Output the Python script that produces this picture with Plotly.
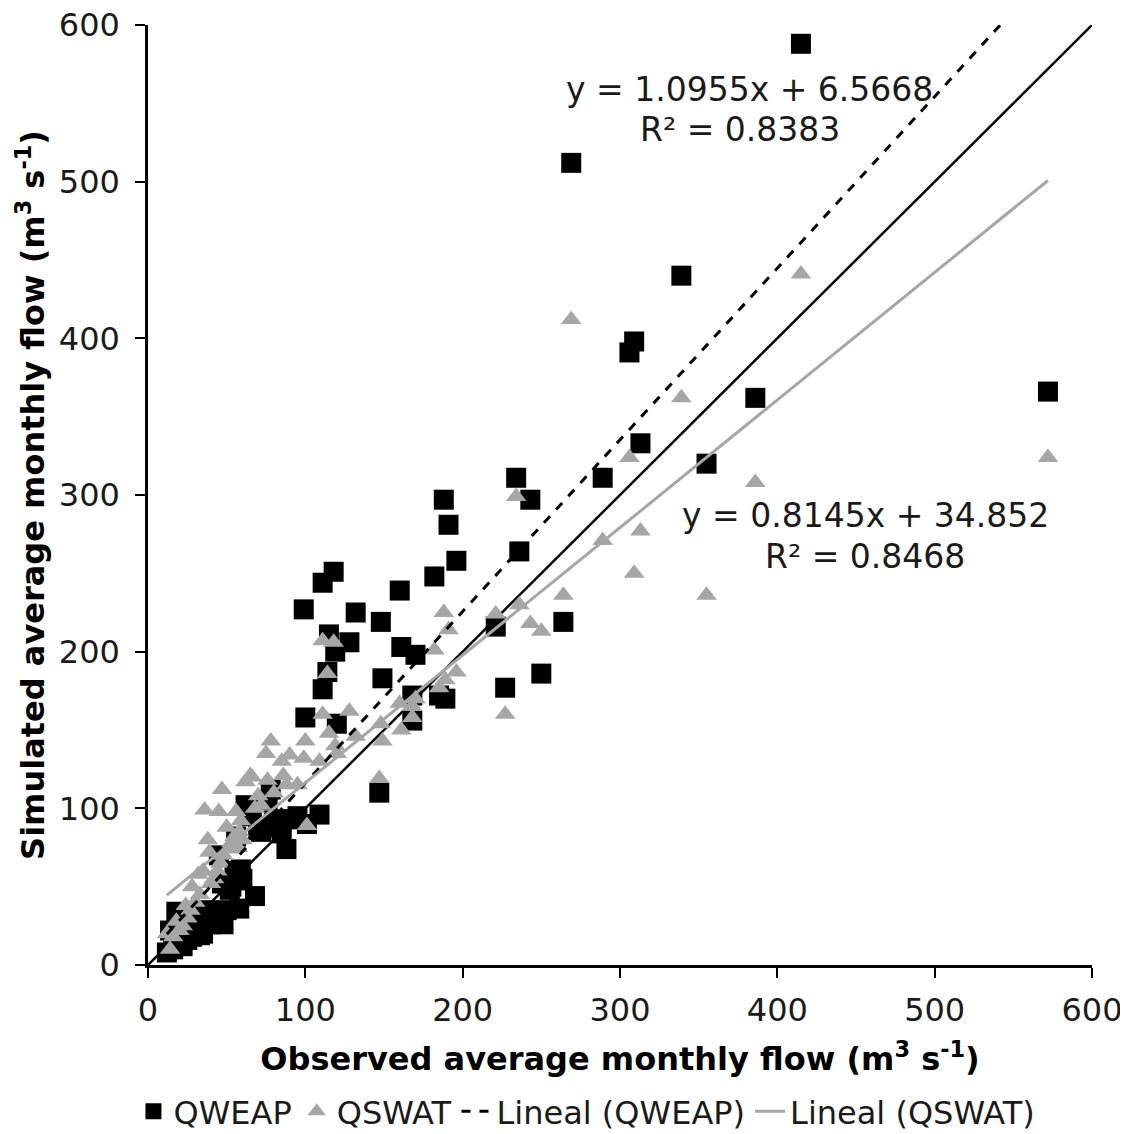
import plotly.graph_objects as go

# Observed average monthly flow (shared x for both models)
obs = [572, 415, 386, 355, 339, 313, 309, 306, 289, 269,
       264, 250, 243, 236, 234, 227, 221, 196, 191, 188,
       189, 182, 185, 170, 168, 168, 161, 160, 148, 149,
       147, 132, 128, 120, 118, 119, 115, 114, 111, 111,
       109, 100, 99, 101,
       95, 90, 88, 86, 85, 80, 78, 76, 75, 72,
       70, 68, 66, 65, 62, 60, 59, 58, 57, 56,
       55, 53, 52, 50, 48, 47, 46, 45, 44, 42,
       40, 39, 38, 36, 35, 33, 32, 30, 28, 27,
       25, 24, 22, 20, 18, 16, 14, 12]

qweap = [366, 588, 362, 320, 440, 333, 398, 391, 311, 512,
         219, 186, 297, 264, 311, 177, 216, 258, 281, 297,
         170, 248, 172, 198, 172, 156, 203, 239, 219, 183,
         110, 225, 206, 154, 251, 200, 211, 187, 244, 176,
         96, 158, 227, 90,
         95, 93, 74, 93, 84, 92, 112, 105, 88, 85,
         86, 44, 95, 100, 102, 55, 61, 36, 54, 82,
         60, 50, 48, 35, 26, 52, 30, 70, 33, 28,
         26, 30, 35, 32, 20, 19, 28, 22, 18, 25,
         16, 20, 12, 16, 34, 10, 22, 8]

qswat = [324, 441, 308, 236, 362, 277, 250, 324, 271, 412,
         236, 213, 218, 230, 299, 160, 224, 187, 214, 225,
         182, 201, 177, 170, 165, 158, 150, 167, 154, 143,
         119, 146, 162, 135, 206, 140, 148, 186, 207, 160,
         130, 143, 132, 89,
         115, 134, 115, 121, 130, 110, 143, 118, 135, 102,
         108, 100, 120, 121, 117, 80, 92, 85, 75, 98,
         82, 78, 74, 88, 70, 112, 65, 98, 60, 55,
         52, 72, 80, 99, 60, 45, 58, 40, 50, 35,
         30, 38, 25, 22, 28, 18, 10, 20]

# Trendline coefficients as printed on the chart
weap_slope, weap_icpt, weap_r2 = 1.0955, 6.5668, 0.8383
swat_slope, swat_icpt, swat_r2 = 0.8145, 34.852, 0.8468

axis_ticks = [0, 100, 200, 300, 400, 500, 600]

FONT = "DejaVu Sans"
GRAY = "#a6a6a6"

xmin, xmax = min(obs), max(obs)

fig = go.Figure()

# 1:1 line
fig.add_trace(go.Scatter(x=[axis_ticks[0], axis_ticks[-1]], y=[axis_ticks[0], axis_ticks[-1]],
                         mode="lines", line=dict(color="black", width=2.5),
                         showlegend=False, hoverinfo="skip"))

fig.add_trace(go.Scatter(x=obs, y=qweap, mode="markers", name="QWEAP",
                         marker=dict(symbol="square", size=20, color="black")))
fig.add_trace(go.Scatter(x=obs, y=qswat, mode="markers", name="QSWAT",
                         marker=dict(symbol="triangle-up", size=18, color=GRAY)))

fig.add_trace(go.Scatter(x=[xmin, xmax],
                         y=[weap_slope * xmin + weap_icpt, weap_slope * xmax + weap_icpt],
                         mode="lines", name="Lineal (QWEAP)",
                         line=dict(color="black", width=3, dash="dash")))
fig.add_trace(go.Scatter(x=[xmin, xmax],
                         y=[swat_slope * xmin + swat_icpt, swat_slope * xmax + swat_icpt],
                         mode="lines", name="Lineal (QSWAT)",
                         line=dict(color=GRAY, width=3)))

axis_common = dict(range=[0, 600], tickvals=axis_ticks, showgrid=False, zeroline=False,
                   showline=True, linecolor="black", linewidth=2.5, automargin=False,
                   ticklabeloverflow="allow",
                   ticks="outside", ticklen=10, tickwidth=2, tickcolor="black",
                   tickfont=dict(family=FONT, size=32, color="#1a1a1a"))

fig.update_xaxes(**axis_common, ticklabelstandoff=5,
                 title=dict(text="<b>Observed average monthly flow (m<sup>3</sup> s<sup>-1</sup>)</b>",
                            font=dict(family=FONT, size=32, color="black"), standoff=20))
fig.update_yaxes(**axis_common, ticklabelstandoff=9,
                 title=dict(text="<b>Simulated average monthly flow (m<sup>3</sup> s<sup>-1</sup>)</b>",
                            font=dict(family=FONT, size=32, color="black"), standoff=5))

ann_font = dict(family=FONT, size=33, color="#1a1a1a")
ann_common = dict(xref="paper", yref="paper", showarrow=False, font=ann_font,
                  xanchor="center", yanchor="middle")
fig.add_annotation(x=0.637, y=0.931, text=f"y = {weap_slope}x + {weap_icpt}", **ann_common)
fig.add_annotation(x=0.627, y=0.889, text=f"R² = {weap_r2}", **ann_common)
fig.add_annotation(x=0.760, y=0.478, text=f"y = {swat_slope}x + {swat_icpt}", **ann_common)
fig.add_annotation(x=0.760, y=0.435, text=f"R² = {swat_r2}", **ann_common)

fig.update_layout(
    width=1120, height=1126,
    margin=dict(l=140, r=36, t=17, b=169),
    paper_bgcolor="white", plot_bgcolor="white",
    font=dict(family=FONT, color="black"),
    legend=dict(orientation="h", x=0.465, xanchor="center",
                yref="container", y=0.02, yanchor="middle",
                font=dict(family=FONT, size=32, color="#1a1a1a"),
                itemwidth=30, tracegroupgap=0),
)

fig.write_html("out.html")
